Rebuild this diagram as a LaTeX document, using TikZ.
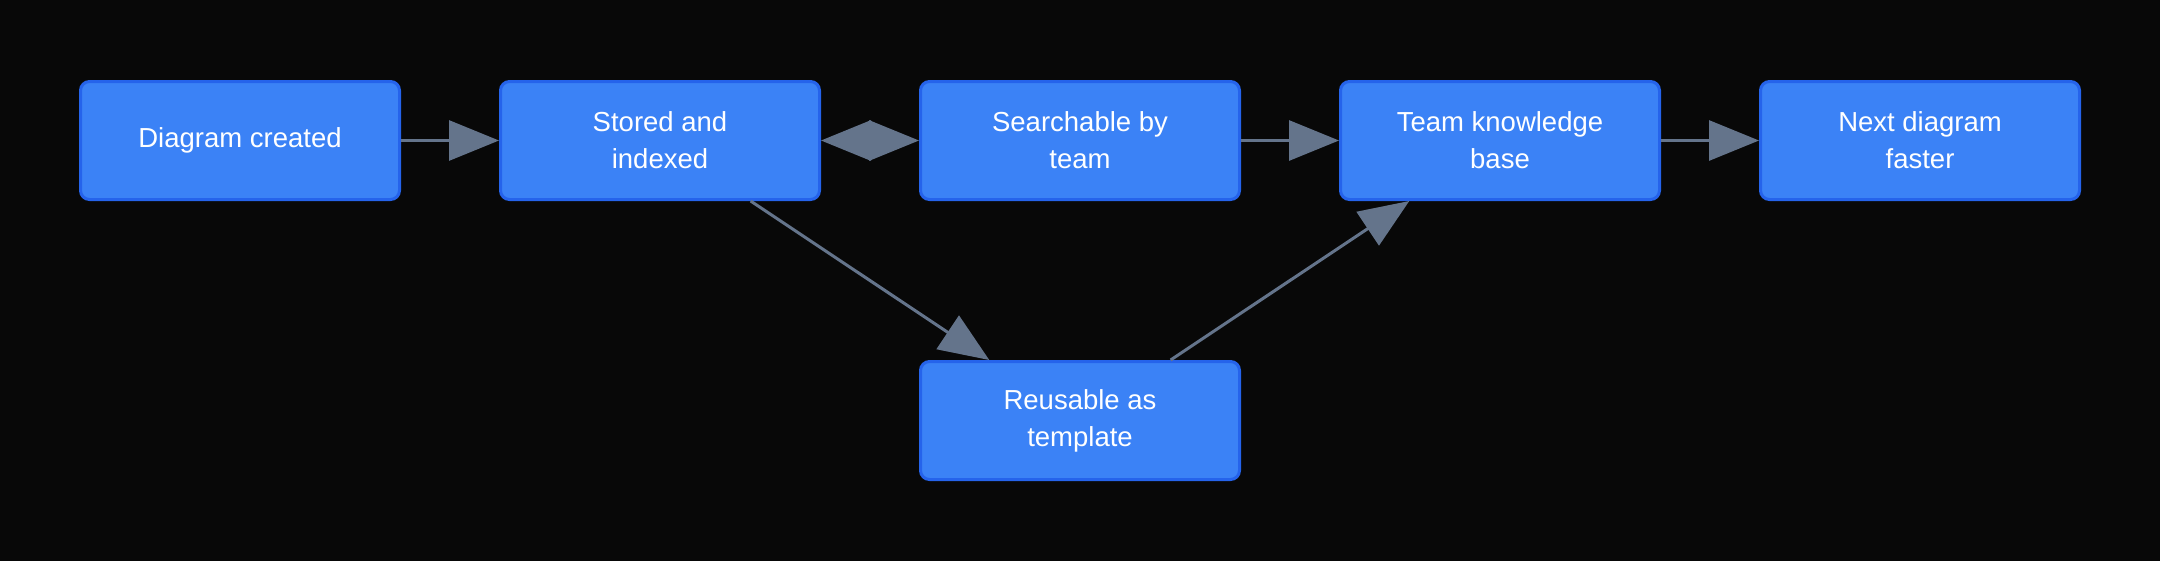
\documentclass[tikz,border=0pt]{standalone}
\usepackage{fontspec}
\setmainfont{Liberation Sans}
\usetikzlibrary{arrows.meta}
\definecolor{bgc}{HTML}{080808}
\definecolor{boxfill}{HTML}{3B82F6}
\definecolor{boxline}{HTML}{2563EB}
\definecolor{edgec}{HTML}{64748B}
\begin{document}
\begin{tikzpicture}[x=1pt,y=-1pt,
  box/.style={draw=boxline, fill=boxfill, line width=3pt, rounded corners=9pt,
    minimum width=319pt, minimum height=118pt, inner sep=0pt, align=center,
    text=white, font=\fontsize{27.5}{37}\selectfont},
  conn/.style={draw=edgec, line width=3pt, -{Triangle[length=50pt,width=40pt]}},
  biconn/.style={draw=edgec, line width=3pt, {Triangle[length=50pt,width=40pt]}-{Triangle[length=50pt,width=40pt]}}]
\useasboundingbox (0,0) rectangle (2160,560);
\fill[bgc] (-6,-6) rectangle (2166,566);
\node[box] (a) at (240,140.5) {Diagram created};
\node[box] (b) at (660,140.5) {Stored and\\indexed};
\node[box] (c) at (1080,140.5) {Searchable by\\team};
\node[box] (d) at (1500,140.5) {Team knowledge\\base};
\node[box] (e) at (1920,140.5) {Next diagram\\faster};
\node[box] (f) at (1080,420.5) {Reusable as\\template};
\draw[conn] (a) -- (b);
\draw[biconn] (b) -- (c);
\draw[conn] (c) -- (d);
\draw[conn] (d) -- (e);
\draw[conn] (b) -- (f);
\draw[conn] (f) -- (d);
\end{tikzpicture}
\end{document}
